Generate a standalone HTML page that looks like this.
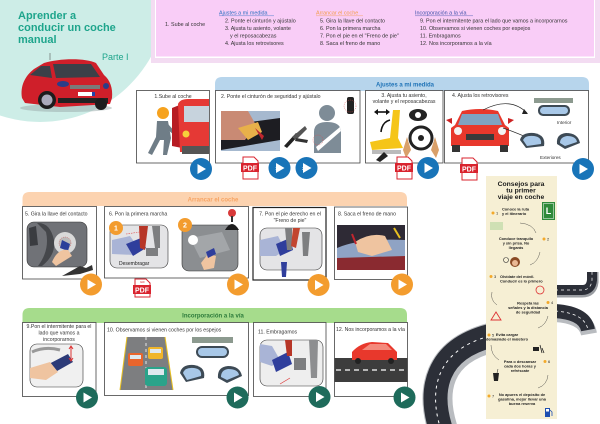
<!DOCTYPE html>
<html><head><meta charset="utf-8"><style>
html,body{margin:0;padding:0;background:#fff;}
svg{display:block;}
text{font-family:"Liberation Sans",sans-serif;}
</style></head><body>
<svg width="600" height="424" viewBox="0 0 600 424" xmlns="http://www.w3.org/2000/svg">
<defs>
<g id="pb"><circle r="11" fill="#1874b8"/><path d="M-3.5,-5 L5,0 L-3.5,5 Z" fill="#fff"/></g>
<g id="po"><circle r="11" fill="#f39c2e"/><path d="M-3.5,-5 L5,0 L-3.5,5 Z" fill="#fff"/></g>
<g id="pg"><circle r="11" fill="#1e6b5b"/><path d="M-3.5,-5 L5,0 L-3.5,5 Z" fill="#fff"/></g>
</defs>

<!-- background teal blob -->
<circle cx="40" cy="-5" r="127" fill="#cdede7"/>

<!-- index box -->
<rect x="151" y="-2" width="450" height="65" fill="#f3dcf2"/>
<rect x="155" y="-2" width="440" height="60" fill="#fff"/>
<rect x="156" y="-2" width="438" height="58.5" fill="#f9cdf7"/>

<!-- title -->
<text x="18" y="19" font-size="11" font-weight="bold" fill="#1ea58c">Aprender a</text>
<text x="18" y="31" font-size="11" font-weight="bold" fill="#1ea58c">conducir un coche</text>
<text x="18" y="43" font-size="11" font-weight="bold" fill="#1ea58c">manual</text>
<text x="102" y="60" font-size="9" fill="#1ea58c">Parte I</text>

<!-- header car -->
<ellipse cx="66" cy="108" rx="46" ry="4" fill="#9aa" opacity="0.5"/>
<line x1="50" y1="60" x2="50" y2="53" stroke="#555" stroke-width="0.6"/>
<path d="M22,98 C20,86 25,76 34,69 L44,63 C60,58 86,58 96,63 L104,75 C110,80 113,88 112,98 L110,104 L60,107 L25,103 Z" fill="#cf1f2a"/>
<path d="M53,64 L91,64 L100,77 L56,78 Z" fill="#3b4048"/>
<path d="M30,75 L41,66 L50,66 L52,78 Z" fill="#3b4048"/>
<ellipse cx="63" cy="84" rx="6" ry="3" fill="#2c3d88"/>
<ellipse cx="106" cy="86" rx="3" ry="3" fill="#2c3d88"/>
<rect x="70" y="85" width="30" height="4" fill="#7a7a7a"/>
<rect x="78" y="92" width="17" height="4" fill="#fff"/>
<rect x="92" y="92" width="3" height="4" fill="#2244aa"/>
<rect x="58" y="98" width="50" height="5" fill="#222"/>
<circle cx="47" cy="100" r="9" fill="#1c1c1c"/>
<circle cx="47" cy="100" r="5.5" fill="#aab"/>
<circle cx="101" cy="104" r="6" fill="#1c1c1c"/>

<!-- index text -->
<text x="165" y="26" font-size="5.4" fill="#333">1. Sube al coche</text>
<text x="219" y="14.5" font-size="5.4" fill="#2a6fc0">Ajustes a mi medida</text>
<line x1="219" y1="15.8" x2="274" y2="15.8" stroke="#2a6fc0" stroke-width="0.4"/>
<text x="225" y="22.5" font-size="5.4" fill="#333">2. Ponte el cinturón y ajústalo</text>
<text x="225" y="30" font-size="5.4" fill="#333">3. Ajusta tu asiento, volante</text>
<text x="230" y="37.5" font-size="5.4" fill="#333">y el  reposacabezas</text>
<text x="225" y="45" font-size="5.4" fill="#333">4. Ajusta los retrovisores</text>
<text x="316" y="14.5" font-size="5.4" fill="#f39c4a">Arrancar el coche</text>
<line x1="316" y1="15.8" x2="363" y2="15.8" stroke="#f39c4a" stroke-width="0.4"/>
<text x="320" y="22.5" font-size="5.4" fill="#333">5. Gira la llave del contacto</text>
<text x="320" y="30" font-size="5.4" fill="#333">6. Pon la primera marcha</text>
<text x="320" y="37.5" font-size="5.4" fill="#333">7. Pon el pie en el "Freno de pie"</text>
<text x="320" y="45" font-size="5.4" fill="#333">8. Saca el freno de mano</text>
<text x="415" y="14.5" font-size="5.4" fill="#3a4fa8">Incorporación a la vía</text>
<line x1="415" y1="15.8" x2="473" y2="15.8" stroke="#3a4fa8" stroke-width="0.4"/>
<text x="420" y="22.5" font-size="5.4" fill="#333">9.   Pon el intermitente para el lado que vamos a incorporarnos</text>
<text x="420" y="30" font-size="5.4" fill="#333">10. Observamos si vienen coches por espejos</text>
<text x="420" y="37.5" font-size="5.4" fill="#333">11. Embragamos</text>
<text x="420" y="45" font-size="5.4" fill="#333">12. Nos incorporamos a la vía</text>

<!-- ROW 1 -->
<path d="M215,91 L215,84 Q215,77 222,77 L582,77 Q589,77 589,84 L589,91 Z" fill="#b7d5ec"/>
<text x="405" y="86.5" font-size="6" font-weight="bold" fill="#1f73b7" text-anchor="middle">Ajustes a mi medida</text>

<rect x="136.5" y="90.5" width="73" height="72.5" fill="#fff" stroke="#444" stroke-width="0.8"/>
<text x="173" y="98" font-size="5.2" fill="#333" text-anchor="middle">1.Sube al coche</text>
<circle cx="163" cy="113" r="6" fill="#f6a21e"/>
<path d="M157,121 L168,121 L171,138 L167,155 L163,155 L164,140 L160,140 L152,155 L148,153 L156,137 Z" fill="#6f7d87"/>
<path d="M168,124 L176,133 L174,135 L167,129 Z" fill="#6f7d87"/>
<path d="M172,108 L182,104 L182,148 L172,146 Z" fill="#b71c23"/>
<path d="M178,104 Q180,99 188,99 L209,99 L209,152 L180,152 Z" fill="#e53935"/>
<rect x="184" y="106" width="25" height="16" fill="#c7d3dd"/>
<circle cx="186" cy="134" r="3.5" fill="#f6d13b"/>
<rect x="182" y="146" width="27" height="8" fill="#555"/>

<rect x="215.5" y="90.5" width="144.5" height="72.5" fill="#fff" stroke="#444" stroke-width="0.8"/>
<text x="221" y="98" font-size="5.2" fill="#333">2. Ponte el cinturón  de seguridad y ajústalo</text>
<rect x="221" y="111" width="59" height="40" fill="#a6b9cf"/>
<path d="M221,126 L280,118 L280,140 L221,150 Z" fill="#1d1d22"/>
<path d="M221,111 L248,111 L256,125 L245,140 L221,140 Z" fill="#c98a74"/>
<path d="M238,128 L258,122 L262,132 L248,140 Z" fill="#e8b04a"/>
<path d="M255,128 L264,136 L262,140 Z" fill="#c0262e"/>
<path d="M284,146 L296,133 L299,135 L287,148 Z" fill="#222"/>
<path d="M292,137 L305,126 L307,129 L296,140 Z" fill="#555"/>
<path d="M296,138 L308,140 L307,143 L295,141 Z" fill="#333"/>
<circle cx="327" cy="113" r="8" fill="#7e8c97"/>
<path d="M314,153 L314,132 Q314,122 327,122 Q341,122 341,132 L341,153 Z" fill="#7e8c97"/>
<path d="M316,147 L340,127 L341,131 L318,151 Z" fill="#fff"/>
<rect x="347" y="97" width="7" height="17" rx="2" fill="#222"/>
<circle cx="350" cy="106" r="6" fill="none" stroke="#e04a4a" stroke-width="0.5" stroke-dasharray="1 1"/>
<circle cx="318" cy="140" r="5" fill="none" stroke="#e04a4a" stroke-width="0.5" stroke-dasharray="1 1"/>

<rect x="365.5" y="90.5" width="77.5" height="72.5" fill="#fff" stroke="#444" stroke-width="0.8"/>
<text x="404" y="97" font-size="5.2" fill="#333" text-anchor="middle">3. Ajusta tu asiento,</text>
<text x="404" y="103" font-size="5.2" fill="#333" text-anchor="middle">volante y el reposacabezas</text>
<path d="M376,112 L388,112" stroke="#111" stroke-width="1.6"/>
<path d="M374,112 L378,109 L378,115 Z M390,112 L386,109 L386,115 Z" fill="#111"/>
<path d="M381,132 Q382,122 390,120" stroke="#111" stroke-width="1.6" fill="none"/>
<path d="M375,145 L379,141 L381,147 Z" fill="#111"/>
<path d="M393,110 L400,110 L398,138 L403,148 L372,150 L370,142 L390,138 Z" fill="#f5c518"/>
<path d="M372,150 L401,150 L401,154 L372,154 Z" fill="#bbb"/>
<path d="M376,160 L384,152 L388,156 L380,162 Z" fill="#222"/>
<ellipse cx="418" cy="115" rx="9" ry="6" fill="#222"/>
<circle cx="418" cy="115" r="3" fill="#fff"/>
<circle cx="421" cy="138" r="11" fill="none" stroke="#222" stroke-width="3"/>
<circle cx="421" cy="138" r="3" fill="#222"/>
<path d="M407,137 L411,150 L406,158 L403,150 Z" fill="#d9a06a"/>
<path d="M435,137 L431,150 L436,158 L439,150 Z" fill="#d9a06a"/>

<rect x="444.5" y="90.5" width="144" height="72.5" fill="#fff" stroke="#444" stroke-width="0.8"/>
<text x="452" y="97" font-size="5.2" fill="#333">4. Ajusta los retrovisores</text>
<path d="M455,125 L462,111 Q480,107 498,111 L505,125 L509,128 L509,146 L451,146 L451,128 Z" fill="#e8382c"/>
<path d="M462,114 L498,114 L502,125 L458,125 Z" fill="#7fa3c2"/>
<circle cx="458" cy="131" r="4" fill="#f3f3f3"/>
<circle cx="502" cy="131" r="4" fill="#f3f3f3"/>
<rect x="466" y="134" width="28" height="6" fill="#3a3a3a"/>
<rect x="452" y="145" width="8" height="7" fill="#333"/>
<rect x="500" y="145" width="8" height="7" fill="#333"/>
<path d="M446,120 L452,118 L452,124 Z M514,120 L508,118 L508,124 Z" fill="#c22"/>
<path d="M483,110 Q510,96 527,113" stroke="#222" stroke-width="0.7" fill="none"/>
<path d="M524,109 L528,114 L522,114 Z" fill="#222"/>
<path d="M503,128 Q515,132 533,140" stroke="#222" stroke-width="0.7" fill="none"/>
<path d="M529,137 L534,140 L529,142 Z" fill="#222"/>
<path d="M534,98 L573,98 L573,103 L534,103 Z" fill="#8c9a8f"/>
<rect x="538" y="105" width="32" height="11" rx="5" fill="#3d4a55"/>
<rect x="540" y="107" width="28" height="7" rx="3.5" fill="#a8c8e8"/>
<text x="557" y="124" font-size="4.6" fill="#333">Interior</text>
<path d="M520,140 Q522,132 534,133 Q546,135 544,146 L526,148 Z" fill="#3d4a55"/>
<path d="M523,140 Q525,135 534,136 Q542,137 541,144 L527,146 Z" fill="#a8c8e8"/>
<path d="M557,144 Q556,134 566,133 Q578,133 580,143 L565,149 Z" fill="#3d4a55"/>
<path d="M560,143 Q560,137 567,136 Q576,136 577,142 L565,146 Z" fill="#a8c8e8"/>
<text x="540" y="159" font-size="4.6" fill="#333">Exteriores</text>

<!-- row 1 buttons -->
<use href="#pb" x="201" y="169"/>
<use href="#pb" x="279.5" y="168"/>
<use href="#pb" x="306.5" y="168"/>
<text x="275" y="170" font-size="4.5" fill="#fff">1</text>
<text x="302" y="170" font-size="4.5" fill="#fff">2</text>
<use href="#pb" x="428" y="168"/>
<use href="#pb" x="583" y="169"/>
<path d="M243,157 L254,157 L258,161 L258,179 L243,179 Z" fill="#fff" stroke="#d9232e" stroke-width="1"/>
<rect x="241" y="163" width="18" height="9" fill="#d9232e"/>
<text x="250" y="170.5" font-size="7" font-weight="bold" fill="#fff" text-anchor="middle">PDF</text>
<path d="M397,157 L408,157 L412,161 L412,179 L397,179 Z" fill="#fff" stroke="#d9232e" stroke-width="1"/>
<rect x="395" y="163" width="18" height="9" fill="#d9232e"/>
<text x="404" y="170.5" font-size="7" font-weight="bold" fill="#fff" text-anchor="middle">PDF</text>
<path d="M462,158 L473,158 L477,162 L477,180 L462,180 Z" fill="#fff" stroke="#d9232e" stroke-width="1"/>
<rect x="460" y="164" width="18" height="9" fill="#d9232e"/>
<text x="469" y="171.5" font-size="7" font-weight="bold" fill="#fff" text-anchor="middle">PDF</text>

<!-- ROADS -->
<path d="M443,430 C430,390 438,352 490,338" stroke="#b9bcc0" stroke-width="30" fill="none"/>
<path d="M441,430 C428,390 436,350 490,336" stroke="#2c2f38" stroke-width="24" fill="none"/>
<path d="M441,430 C428,390 436,350 490,336" stroke="#fff" stroke-width="1" stroke-dasharray="3 4" fill="none"/>
<path d="M555,314 Q586,316 589,334" stroke="#b9bcc0" stroke-width="16" fill="none"/>
<path d="M555,311 Q585,313 588,330" stroke="#2c2f38" stroke-width="14" fill="none"/>
<path d="M555,311 Q585,313 588,330" stroke="#fff" stroke-width="0.8" stroke-dasharray="3 3" fill="none"/>
<path d="M555,292 L582,292 Q592,292 593,282 L593,272" stroke="#9a9da2" stroke-width="11" fill="none"/>
<path d="M555,290 L582,290 Q591,290 592,280 L592,272" stroke="#2c2f38" stroke-width="10" fill="none"/>
<path d="M555,290 L582,290 Q591,290 592,280 L592,272" stroke="#fff" stroke-width="0.7" stroke-dasharray="3 3" fill="none"/>

<!-- poster -->
<rect x="486" y="176" width="71" height="243" fill="#f6efd4"/>
<text x="521" y="186" font-size="6.8" font-weight="bold" fill="#1a1a1a" text-anchor="middle">Consejos para</text>
<text x="521" y="192.5" font-size="6.8" font-weight="bold" fill="#1a1a1a" text-anchor="middle">tu primer</text>
<text x="521" y="199" font-size="6.8" font-weight="bold" fill="#1a1a1a" text-anchor="middle">viaje en coche</text>
<rect x="542" y="202" width="13" height="18" fill="#2f8a3a"/>
<rect x="543.5" y="203.5" width="10" height="15" fill="none" stroke="#fff" stroke-width="0.5"/>
<text x="548.5" y="214" font-size="9" font-weight="bold" fill="#fff" text-anchor="middle">L</text>
<g font-size="3.9" font-weight="bold" fill="#222">
<circle cx="493" cy="213" r="1.5" fill="#f3a92a"/><text x="496" y="214.5" font-weight="normal">1</text>
<text x="502" y="210.5">Conoce la ruta</text><text x="502" y="215">y el itinerario</text>
<rect x="490" y="222" width="13" height="8" fill="#cfe0b4"/>
<path d="M520,223 Q533,224 536,233" stroke="#333" stroke-width="0.4" fill="none"/>
<text x="516" y="240" text-anchor="middle">Conduce tranquilo</text><text x="516" y="244.5" text-anchor="middle">y sin prisa. No</text><text x="516" y="249" text-anchor="middle">llegarás</text>
<circle cx="544" cy="239" r="1.5" fill="#f3a92a"/><text x="547" y="240.5" font-weight="normal">2</text>
<path d="M540,252 Q538,262 530,265" stroke="#333" stroke-width="0.4" fill="none"/>
<circle cx="506" cy="260" r="2.5" fill="none" stroke="#333" stroke-width="0.6"/>
<circle cx="515" cy="262" r="5" fill="#8a4a25"/><circle cx="515" cy="263" r="3" fill="#e9b894"/>
<circle cx="491" cy="276.5" r="1.5" fill="#f3a92a"/><text x="494" y="278" font-weight="normal">3</text>
<text x="500" y="278">Olvídate del móvil.</text><text x="500" y="282.5">Conducir es lo primero</text>
<circle cx="540" cy="290" r="4" fill="none" stroke="#d33" stroke-width="0.8"/>
<path d="M492,292 Q490,300 497,305" stroke="#333" stroke-width="0.4" fill="none"/>
<text x="528" y="304.5" text-anchor="middle">Respeta las</text><text x="528" y="309" text-anchor="middle">señales y la distancia</text><text x="528" y="313.5" text-anchor="middle">de seguridad</text>
<circle cx="548" cy="302.5" r="1.5" fill="#f3a92a"/><text x="551" y="304" font-weight="normal">4</text>
<path d="M496,312 L501,320 L491,320 Z" fill="none" stroke="#d33" stroke-width="0.9"/>
<path d="M548,316 Q546,325 538,328" stroke="#333" stroke-width="0.4" fill="none"/>
<circle cx="489" cy="335" r="1.5" fill="#f3a92a"/><text x="492" y="336.5" font-weight="normal">5</text>
<text x="507" y="336" text-anchor="middle">Evita cargar</text><text x="507" y="340.5" text-anchor="middle">demasiado el maletero</text>
<rect x="533" y="347" width="6" height="4" fill="#222"/><path d="M540,345 L542,353 M542,348 L544,353" stroke="#222" stroke-width="0.8"/>
<path d="M491,345 Q491,355 499,360" stroke="#333" stroke-width="0.4" fill="none"/>
<text x="520" y="363" text-anchor="middle">Para o descansar</text><text x="520" y="367.5" text-anchor="middle">cada dos horas y</text><text x="520" y="372" text-anchor="middle">refréscate</text>
<circle cx="545" cy="361.5" r="1.5" fill="#f3a92a"/><text x="548" y="363" font-weight="normal">6</text>
<path d="M493,373 L499,373 L498,381 L494,381 Z" fill="#222"/><line x1="497" y1="373" x2="498" y2="369" stroke="#222" stroke-width="0.5"/>
<path d="M548,375 Q547,385 538,388" stroke="#333" stroke-width="0.4" fill="none"/>
<circle cx="489" cy="396" r="1.5" fill="#f3a92a"/><text x="492" y="397.5" font-weight="normal">7</text>
<text x="522" y="396" text-anchor="middle">No apures el depósito de</text><text x="522" y="400.5" text-anchor="middle">gasolina, mejor llevar una</text><text x="522" y="405" text-anchor="middle">buena reserva</text>
<rect x="545" y="408" width="5" height="9" fill="#1e4fb0"/><rect x="546" y="409" width="3" height="2.5" fill="#fff"/><path d="M550,410 L552,412 L552,416" stroke="#1e4fb0" stroke-width="0.8" fill="none"/>
</g>

<!-- ROW 2 -->
<path d="M22.5,206 L22.5,199 Q22.5,192 29.5,192 L400,192 Q407,192 407,199 L407,206 Z" fill="#fcd3b0"/>
<text x="213" y="201.5" font-size="6" font-weight="bold" fill="#f7a463" text-anchor="middle">Arrancar el coche</text>

<rect x="22.5" y="206.5" width="74" height="72.5" fill="#fff" stroke="#444" stroke-width="0.8"/>
<text x="25" y="215.5" font-size="5.2" fill="#333">5. Gira la llave del contacto</text>
<rect x="27" y="222" width="60" height="45" rx="7" fill="#707277" stroke="#333" stroke-width="0.6"/>
<path d="M29,228 L36,226 L38,245 L30,246 Z" fill="#3a3c40"/>
<path d="M37,223 Q50,222 54,240 Q56,255 42,266 L38,266 Q50,250 46,232 Z" fill="#45474b"/>
<circle cx="65" cy="243" r="11" fill="#d9d9d9"/>
<circle cx="65" cy="243" r="6" fill="#bbb" stroke="#d33" stroke-width="0.4" stroke-dasharray="1 1"/>
<path d="M62,240 L70,244 L68,251 L60,248 Z" fill="#2a3f9a"/>
<path d="M52,262 Q58,248 68,250 L72,256 L56,266 Z" fill="#efc4a0"/>
<path d="M62,276 L80,266 L86,268 L92,265 L93,270 L80,274 Z" fill="#333"/>

<rect x="104.5" y="206.5" width="144" height="71.5" fill="#fff" stroke="#444" stroke-width="0.8"/>
<text x="109" y="215.5" font-size="5.2" fill="#333">6. Pon la primera marcha</text>
<rect x="110" y="225" width="58" height="43" rx="7" fill="#e4e4e6" stroke="#333" stroke-width="0.6"/>
<path d="M112,240 L130,236 L140,250 L135,255 L112,254 Z" fill="#a9b4d6"/>
<path d="M126,244 L141,238 L146,248 L133,256 Z" fill="#2f3e9c"/>
<path d="M139,226 L148,226 L145,250 L140,248 Z" fill="#b73627"/>
<rect x="146" y="248" width="12" height="8" fill="#7d7e80"/>
<path d="M152,226 L160,226 L160,248 L155,248 Z" fill="#7d7e80"/>
<path d="M126,234 L140,232" stroke="#e05050" stroke-width="0.6" stroke-dasharray="1.5 1"/>
<text x="119" y="265" font-size="5" fill="#222">Desembragar</text>
<circle cx="116" cy="228" r="7" fill="#f39c2e"/>
<text x="116" y="230.5" font-size="7" font-weight="bold" fill="#fff" text-anchor="middle">1</text>
<rect x="182" y="225" width="56" height="46" rx="7" fill="#8b8e91" stroke="#333" stroke-width="0.6"/>
<path d="M190,238 L222,232 L230,250 L200,258 Z" fill="#a3a6a9"/>
<circle cx="193" cy="240" r="5" fill="#fff"/>
<path d="M201,263 L208,254 L216,256 L214,268 L204,270 Z" fill="#efc4a0"/>
<path d="M206,252 L214,248 L216,254 L208,258 Z" fill="#2f3e9c"/>
<circle cx="185" cy="225" r="7" fill="#f39c2e"/>
<text x="185" y="227.5" font-size="7" font-weight="bold" fill="#fff" text-anchor="middle">2</text>
<circle cx="232" cy="213" r="4" fill="#d83a3a"/>
<rect x="231" y="216" width="2" height="6" fill="#333"/>
<path d="M225,230 Q232,218 239,230 Z" fill="#1e1e1e"/>

<rect x="253" y="207.5" width="73" height="72.5" fill="#fff" stroke="#222" stroke-width="1.2"/>
<text x="290" y="215.5" font-size="5.2" fill="#333" text-anchor="middle">7. Pon el pie derecho en el</text>
<text x="290" y="222" font-size="5.2" fill="#333" text-anchor="middle">"Freno de pie"</text>
<rect x="260" y="228" width="62" height="42" rx="7" fill="#e4e4e6" stroke="#333" stroke-width="0.6"/>
<path d="M260,240 L278,236 L285,250 L276,256 L260,256 Z" fill="#a9b4d6"/>
<path d="M276,244 L290,238 L293,250 L280,256 Z" fill="#2f3e9c"/>
<path d="M285,228 L292,228 L292,250 L287,250 Z" fill="#7d7e80"/>
<path d="M293,228 L300,228 L296,248 L291,246 Z" fill="#c2452f"/>
<path d="M302,232 L310,232 L308,256 L303,256 Z" fill="#7d7e80"/>
<path d="M281,262 L287,262 L286,277 L282,277 Z" fill="#2f3e9c"/>

<rect x="334.5" y="207" width="73" height="72.5" fill="#fff" stroke="#444" stroke-width="0.8"/>
<text x="338" y="215.5" font-size="5.2" fill="#333">8. Saca el freno de mano</text>
<rect x="337" y="225" width="68" height="45" fill="#2e2a35"/>
<path d="M337,248 Q360,238 405,240 L405,262 L337,262 Z" fill="#8fa3c4"/>
<path d="M337,258 L405,256 L405,270 L337,270 Z" fill="#8a2a30"/>
<path d="M355,242 Q370,232 385,236 L392,250 L372,256 L358,252 Z" fill="#efc4a0"/>
<path d="M352,234 L356,244" stroke="#c0262e" stroke-width="2"/>
<path d="M394,228 L400,238" stroke="#e8c020" stroke-width="2"/>

<use href="#po" x="91" y="284.5"/>
<use href="#po" x="238" y="284.5"/>
<use href="#po" x="318.5" y="285"/>
<use href="#po" x="402" y="284.5"/>
<path d="M135,279 L146,279 L150,283 L150,297 L135,297 Z" fill="#fff" stroke="#d9232e" stroke-width="1"/>
<text x="142.5" y="283" font-size="3" fill="#d9232e" text-anchor="middle">GIF</text>
<rect x="133" y="285" width="18" height="9" fill="#d9232e"/>
<text x="142" y="292.5" font-size="7" font-weight="bold" fill="#fff" text-anchor="middle">PDF</text>

<!-- ROW 3 -->
<path d="M22.5,323 L22.5,315 Q22.5,308 29.5,308 L400,308 Q407,308 407,315 L407,323 Z" fill="#a6dc8c"/>
<text x="213" y="317.5" font-size="6" font-weight="bold" fill="#2b7a3a" text-anchor="middle">Incorporación a la vía</text>

<rect x="22.5" y="322.5" width="73.5" height="74" fill="#fff" stroke="#444" stroke-width="0.8"/>
<text x="59" y="328" font-size="5.2" fill="#333" text-anchor="middle">9.Pon el intermitente para el</text>
<text x="59" y="334.5" font-size="5.2" fill="#333" text-anchor="middle">lado que vamos a</text>
<text x="59" y="341" font-size="5.2" fill="#333" text-anchor="middle">incorporarnos</text>
<rect x="30" y="344" width="53" height="43" rx="7" fill="#f0f0f0" stroke="#333" stroke-width="0.6"/>
<path d="M32,352 Q45,346 60,350" stroke="#999" stroke-width="3" fill="none"/>
<path d="M45,366 L68,354 L73,362 L50,375 Z" fill="#2c3b78"/>
<path d="M30,368 L50,362 L58,372 L46,380 L30,378 Z" fill="#efc4a0"/>
<path d="M71,347 L71,360" stroke="#d33" stroke-width="1"/>
<path d="M69,349 L71,346 L73,349 M69,358 L71,361 L73,358" stroke="#d33" stroke-width="1" fill="none"/>

<rect x="104.5" y="322.5" width="144" height="73" fill="#fff" stroke="#444" stroke-width="0.8"/>
<text x="107" y="331.5" font-size="5.2" fill="#333">10. Observamos si vienen coches por los espejos</text>
<path d="M127,337 L165,337 L173,390 L120,390 Z" fill="#7d7e80"/>
<path d="M127,337 L120,390 M165,337 L173,390" stroke="#e8c020" stroke-width="1"/>
<path d="M146,337 L146,390" stroke="#fff" stroke-width="0.8" stroke-dasharray="3 3"/>
<rect x="128" y="353" width="15" height="13" rx="2" fill="#e8652c"/>
<rect x="130" y="355" width="11" height="4" fill="#dfe8ee"/>
<rect x="148" y="347" width="15" height="12" rx="2" fill="#f0b52a"/>
<rect x="150" y="349" width="11" height="4" fill="#dfe8ee"/>
<rect x="145" y="367" width="22" height="19" rx="3" fill="#2aa38a"/>
<rect x="148" y="369" width="16" height="6" fill="#dfe8ee"/>
<path d="M192,337 L233,337 L233,343 L192,343 Z" fill="#8c9a8f"/>
<rect x="196" y="346" width="33" height="12" rx="6" fill="#3d4a55"/>
<rect x="198" y="348" width="29" height="8" rx="4" fill="#a8c8e8"/>
<path d="M180,373 Q182,364 194,365 Q206,367 204,378 L186,382 Z" fill="#3d4a55"/>
<path d="M183,373 Q185,367 194,368 Q202,369 201,376 L187,380 Z" fill="#a8c8e8"/>
<path d="M218,378 Q217,367 228,366 Q240,366 242,376 L227,383 Z" fill="#3d4a55"/>
<path d="M221,377 Q221,370 228,369 Q238,369 239,375 L227,380 Z" fill="#a8c8e8"/>

<rect x="253.5" y="322.5" width="72.5" height="74" fill="#fff" stroke="#444" stroke-width="0.8"/>
<text x="258" y="333.5" font-size="5.2" fill="#333">11. Embragamos</text>
<rect x="260" y="340" width="63" height="46" rx="7" fill="#eeeeee" stroke="#333" stroke-width="0.6"/>
<path d="M260,344 L272,346 L280,360 L272,366 L260,362 Z" fill="#a9b4d6"/>
<path d="M272,360 L288,352 L292,364 L276,372 Z" fill="#2f3e9c"/>
<path d="M285,340 L292,340 L292,356 L287,356 Z" fill="#b73627"/>
<rect x="294" y="358" width="12" height="12" fill="#7d7e80"/>
<path d="M309,340 L318,340 L317,378 L311,378 Z" fill="#8d8e90"/>
<path d="M290,378 L280,384" stroke="#d33" stroke-width="0.6"/>

<rect x="334.5" y="322.5" width="73" height="74" fill="#fff" stroke="#444" stroke-width="0.8"/>
<text x="336" y="331" font-size="5.2" fill="#333">12. Nos incorporamos a la vía</text>
<rect x="334.5" y="358" width="73" height="24" fill="#3d3d3d"/>
<path d="M336,370 L407,370" stroke="#fff" stroke-width="1.2" stroke-dasharray="5 4"/>
<path d="M352,360 L352,352 Q360,343 372,342 L388,343 L397,352 L397,360 Z" fill="#e8382c"/>
<path d="M362,350 L370,344 L386,344 L392,350 Z" fill="#f48a7c"/>
<circle cx="358" cy="361" r="3" fill="#222"/>
<circle cx="391" cy="361" r="3" fill="#222"/>

<use href="#pg" x="87" y="397.5"/>
<use href="#pg" x="237.5" y="397.5"/>
<use href="#pg" x="319.5" y="397"/>
<use href="#pg" x="404.5" y="397.5"/>
</svg>
</body></html>
